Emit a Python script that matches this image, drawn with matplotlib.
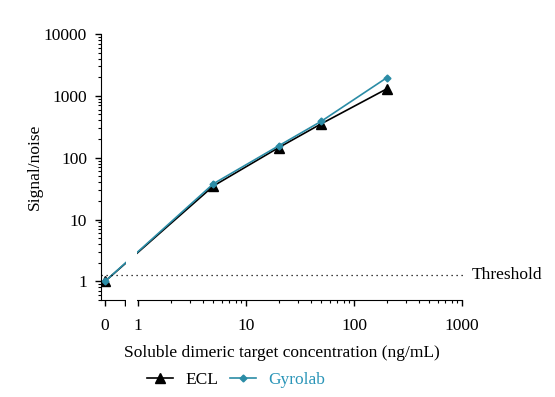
import numpy as np
import matplotlib
matplotlib.use("Agg")
import matplotlib.pyplot as plt
from matplotlib.patches import Rectangle

plt.rcParams['font.family'] = ['Liberation Serif', 'DejaVu Serif']

# concentrations (ng/mL); 0 is the blank
conc = [0, 5, 20, 50, 200]
ecl = [1.0, 35, 145, 355, 1290]
gyrolab = [1.0, 38, 155, 390, 1950]
threshold = 1.25

teal = "#2b8ca6"

fig = plt.figure(figsize=(5.55, 3.97), dpi=100)
ax = fig.add_axes([101 / 555, (397 - 300) / 397, 361 / 555, (300 - 34) / 397])

# broken x axis: linear piece for 0, log from 1 upward
ax.set_xscale("symlog", linthresh=1, linscale=0.275)
ax.set_yscale("log")
ax.set_xlim(-0.121, 1000)
ax.set_ylim(0.5, 10000)

ax.plot(conc, ecl, color="black", lw=1.2, marker="^", ms=7, label="ECL", zorder=2)
ax.plot(conc, gyrolab, color=teal, lw=1.2, marker="D", ms=3.5, label="Gyrolab", zorder=2.1)

# gap in the axis and the curves
ax.add_patch(Rectangle(((126 - 101) / 361, -0.03), 11 / 361, 0.5, transform=ax.transAxes,
                       facecolor="white", edgecolor="none", clip_on=False, zorder=2.8))

ax.axhline(threshold, xmin=0, xmax=1.01, color="black", ls=(0, (1, 3)), lw=0.9, clip_on=False, zorder=3)
ax.text(1.028, threshold, "Threshold", transform=ax.get_yaxis_transform(), va="center", ha="left", fontsize=12.5)

ax.spines["top"].set_visible(False)
ax.spines["right"].set_visible(False)

ax.set_xticks([0, 0.62, 1, 10, 100, 1000])
ax.set_xticklabels(["0", "", "1", "10", "100", "1000"])
minors = [m * d for d in [1, 10, 100] for m in range(2, 10)]
ax.set_xticks(minors, minor=True)
ax.set_yticks([1, 10, 100, 1000, 10000])
ax.set_yticklabels(["1", "10", "100", "1000", "10000"])
ax.tick_params(axis="both", which="major", labelsize=12.5, length=4, width=1, direction="out")
ax.tick_params(axis="x", which="major", pad=9)
ax.tick_params(axis="y", which="major", pad=6)
ax.tick_params(axis="both", which="minor", length=2.5, width=0.8, direction="out")
ax.tick_params(axis="x", which="minor", labelbottom=False)

ax.set_xlabel("Soluble dimeric target concentration (ng/mL)", fontsize=12.5, labelpad=8)
ax.set_ylabel("Signal/noise", fontsize=12.5, labelpad=1)

leg = ax.legend(loc="center", bbox_to_anchor=((236 - 101) / 361, -0.30), ncol=2, frameon=False,
                fontsize=12.5, handlelength=1.5, columnspacing=0.7, handletextpad=0.7)
leg.get_texts()[1].set_color("#2a95b8")

fig.savefig("out.png", dpi=100)
